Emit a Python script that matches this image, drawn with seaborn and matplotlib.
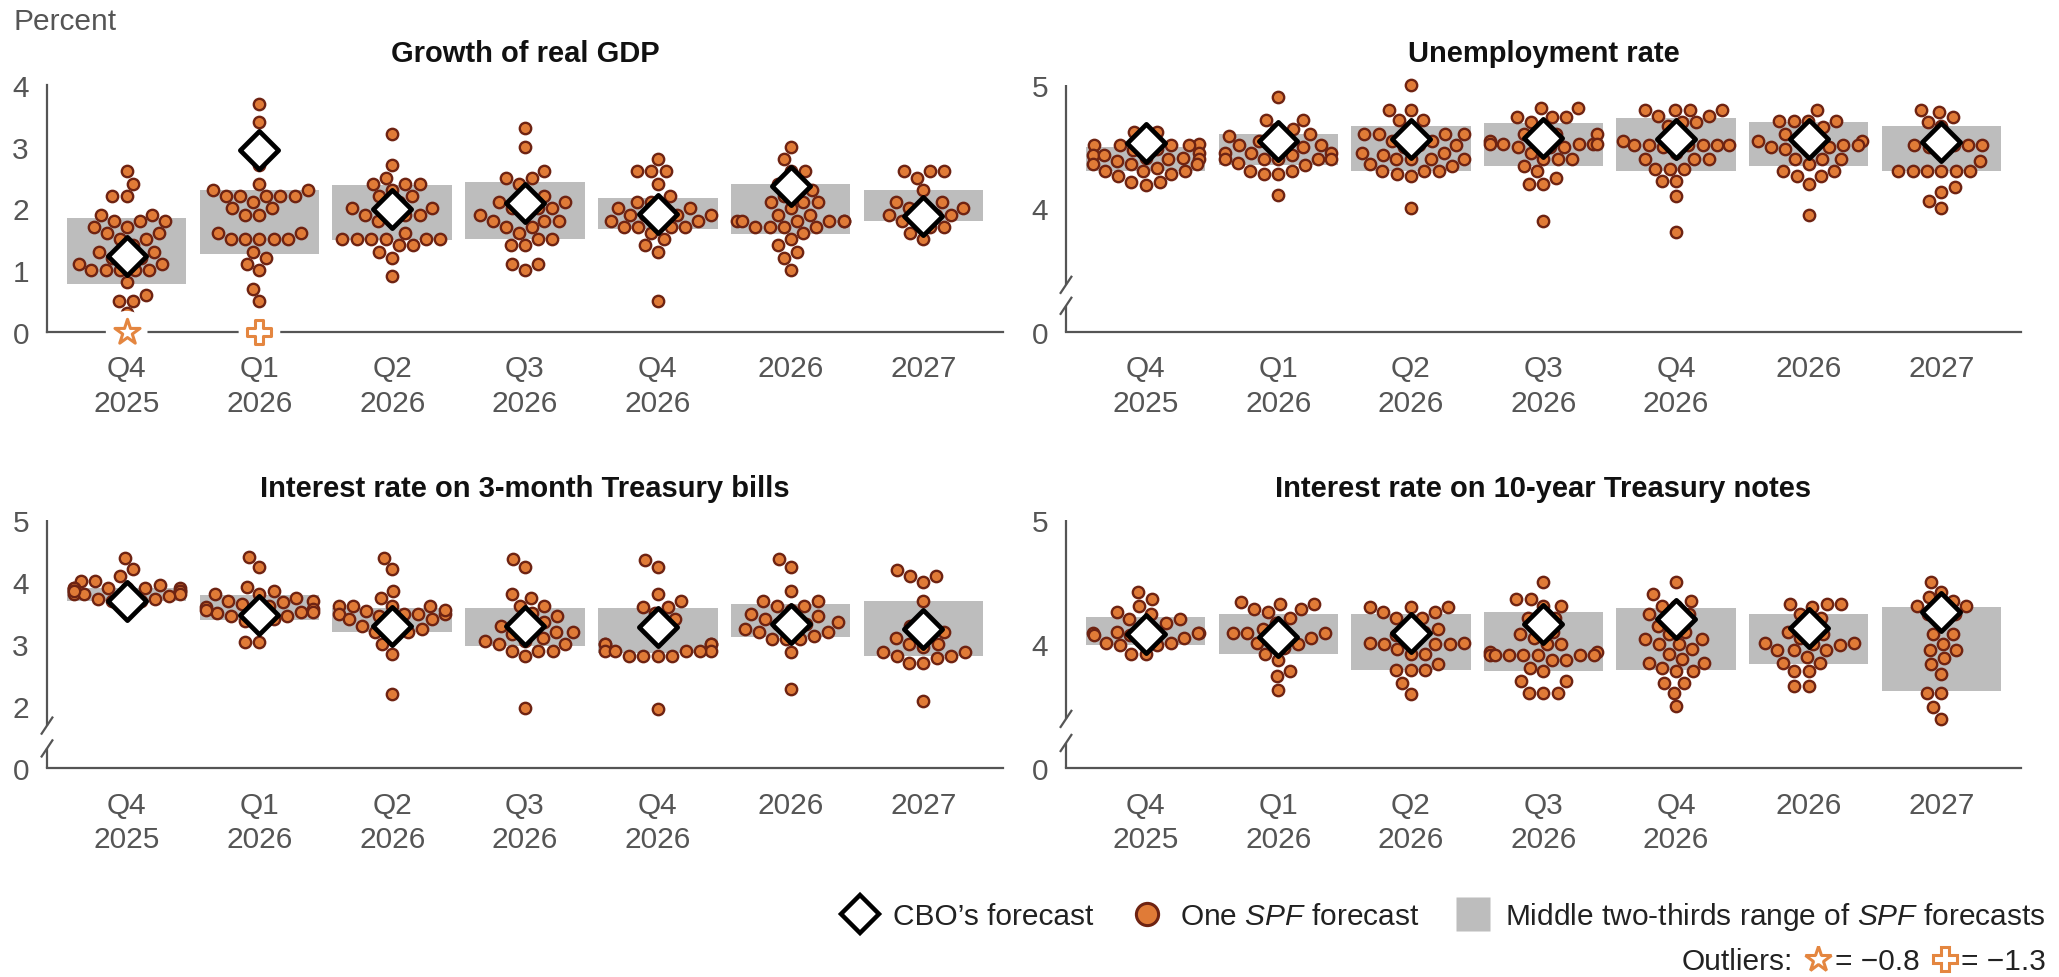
import numpy as np
import pandas as pd
import matplotlib
matplotlib.use("Agg")
import matplotlib.pyplot as plt
from matplotlib.lines import Line2D
import seaborn as sns

# ---------------------------------------------------------------- data
periods = ["Q4\n2025", "Q1\n2026", "Q2\n2026", "Q3\n2026", "Q4\n2026", "2026", "2027"]

# Growth of real GDP: individual SPF forecasts per period
gdp_spf = [
    [2.6, 2.4, 2.2, 2.2, 1.9, 1.9, 1.8, 1.8, 1.8, 1.7, 1.7, 1.6, 1.6, 1.5, 1.5, 1.4, 1.3,
     1.3, 1.2, 1.2, 1.2, 1.1, 1.1, 1.0, 1.0, 1.0, 1.0, 1.0, 0.8, 0.6, 0.5, 0.5, 0.3],
    [3.7, 3.4, 2.7, 2.4, 2.3, 2.3, 2.2, 2.2, 2.2, 2.2, 2.2, 2.1, 2.0, 2.0, 1.9, 1.9, 1.6,
     1.6, 1.5, 1.5, 1.5, 1.5, 1.5, 1.3, 1.2, 1.1, 1.0, 0.7, 0.5],
    [3.2, 2.7, 2.5, 2.4, 2.4, 2.4, 2.3, 2.2, 2.2, 2.1, 2.0, 2.0, 2.0, 1.9, 1.9, 1.9, 1.8,
     1.8, 1.6, 1.5, 1.5, 1.5, 1.5, 1.5, 1.5, 1.4, 1.4, 1.3, 1.2, 0.9],
    [3.3, 3.0, 2.6, 2.5, 2.5, 2.4, 2.2, 2.2, 2.1, 2.1, 2.0, 2.0, 2.0, 1.9, 1.9, 1.8, 1.8,
     1.8, 1.7, 1.7, 1.6, 1.5, 1.5, 1.4, 1.4, 1.1, 1.1, 1.0],
    [2.8, 2.6, 2.6, 2.6, 2.4, 2.2, 2.1, 2.1, 2.0, 2.0, 2.0, 1.9, 1.9, 1.9, 1.9, 1.8, 1.8,
     1.8, 1.7, 1.7, 1.7, 1.7, 1.6, 1.5, 1.4, 1.3, 0.5],
    [3.0, 2.8, 2.6, 2.6, 2.4, 2.3, 2.3, 2.2, 2.1, 2.1, 2.1, 2.0, 1.9, 1.9, 1.8, 1.8, 1.8,
     1.8, 1.8, 1.8, 1.7, 1.7, 1.7, 1.7, 1.6, 1.5, 1.4, 1.3, 1.2, 1.0],
    [2.6, 2.6, 2.6, 2.5, 2.3, 2.1, 2.1, 2.0, 2.0, 2.0, 1.9, 1.9, 1.9, 1.8, 1.8, 1.7, 1.7,
     1.6, 1.5],
]
gdp_cbo = [1.22, 2.94, 1.99, 2.09, 1.91, 2.37, 1.87]
gdp_band_lo = [0.77, 1.26, 1.49, 1.50, 1.67, 1.59, 1.80]
gdp_band_hi = [1.84, 2.29, 2.38, 2.42, 2.17, 2.40, 2.30]
# off-scale forecasts, shown as symbols on the zero line
gdp_outlier_period = [0, 1]
gdp_outlier_value = [-0.8, -1.3]
gdp_outlier_marker = ["*", "P"]

# Unemployment rate
unemp_spf = [
    [4.62, 4.62, 4.55, 4.52, 4.51, 4.51, 4.51, 4.51, 4.48, 4.45, 4.43, 4.43, 4.41, 4.41,
     4.40, 4.40, 4.38, 4.36, 4.36, 4.36, 4.30, 4.30, 4.30, 4.28, 4.26, 4.21, 4.21, 4.19,
     4.47, 4.33],
    [4.90, 4.72, 4.72, 4.64, 4.64, 4.59, 4.60, 4.55, 4.55, 4.51, 4.51, 4.50, 4.50, 4.45,
     4.45, 4.45, 4.43, 4.40, 4.40, 4.40, 4.40, 4.40, 4.37, 4.35, 4.30, 4.30, 4.28, 4.28,
     4.11],
    [5.00, 4.80, 4.80, 4.72, 4.72, 4.66, 4.60, 4.60, 4.60, 4.60, 4.55, 4.55, 4.51, 4.51,
     4.50, 4.45, 4.45, 4.43, 4.40, 4.40, 4.40, 4.40, 4.36, 4.34, 4.30, 4.30, 4.30, 4.28,
     4.26, 4.00],
    [4.81, 4.81, 4.74, 4.74, 4.74, 4.70, 4.65, 4.60, 4.60, 4.60, 4.55, 4.55, 4.52, 4.52,
     4.52, 4.52, 4.52, 4.50, 4.50, 4.50, 4.45, 4.40, 4.40, 4.40, 4.34, 4.30, 4.25, 4.20,
     4.20, 3.90],
    [4.80, 4.80, 4.80, 4.80, 4.75, 4.75, 4.70, 4.70, 4.67, 4.58, 4.55, 4.51, 4.51, 4.51,
     4.51, 4.51, 4.51, 4.50, 4.45, 4.40, 4.40, 4.40, 4.32, 4.32, 4.32, 4.22, 4.22, 4.10,
     3.81],
    [4.80, 4.71, 4.71, 4.71, 4.71, 4.66, 4.60, 4.60, 4.55, 4.55, 4.55, 4.51, 4.51, 4.50,
     4.50, 4.48, 4.48, 4.40, 4.40, 4.40, 4.36, 4.30, 4.30, 4.26, 4.26, 4.20, 3.95],
    [4.80, 4.78, 4.74, 4.70, 4.67, 4.51, 4.51, 4.51, 4.51, 4.50, 4.45, 4.38, 4.30, 4.30,
     4.30, 4.30, 4.30, 4.30, 4.17, 4.13, 4.06, 4.00],
]
unemp_cbo = [4.53, 4.55, 4.56, 4.57, 4.56, 4.56, 4.54]
unemp_band_lo = [4.30, 4.355, 4.30, 4.34, 4.30, 4.34, 4.30]
unemp_band_hi = [4.50, 4.60, 4.67, 4.69, 4.735, 4.70, 4.67]

# Interest rate on 3-month Treasury bills
bill_spf = [
    [4.39, 4.21, 4.10, 4.02, 4.02, 3.95, 3.91, 3.91, 3.91, 3.91, 3.91, 3.86, 3.86, 3.86,
     3.81, 3.81, 3.80, 3.78, 3.73, 3.73, 3.70, 3.70, 3.66, 3.85, 3.90],
    [4.40, 4.24, 3.92, 3.86, 3.81, 3.81, 3.75, 3.70, 3.70, 3.68, 3.62, 3.60, 3.56, 3.56,
     3.51, 3.51, 3.50, 3.46, 3.45, 3.40, 3.38, 3.35, 3.03, 3.03, 3.65, 3.55],
    [4.39, 4.21, 3.85, 3.75, 3.62, 3.62, 3.62, 3.62, 3.54, 3.48, 3.48, 3.48, 3.48, 3.45,
     3.40, 3.40, 3.35, 3.30, 3.19, 3.19, 3.13, 3.00, 2.84, 2.19, 3.55, 3.25],
    [4.37, 4.24, 3.81, 3.75, 3.62, 3.62, 3.50, 3.38, 3.35, 3.30, 3.25, 3.19, 3.19, 3.16,
     3.05, 3.05, 3.00, 3.00, 2.89, 2.89, 2.89, 2.81, 1.97, 3.45, 3.10],
    [4.35, 4.24, 3.80, 3.70, 3.60, 3.60, 3.50, 3.40, 3.30, 3.24, 3.08, 3.00, 3.00, 3.00,
     3.00, 2.89, 2.89, 2.89, 2.89, 2.89, 2.81, 2.81, 2.81, 2.81, 1.95],
    [4.37, 4.24, 3.86, 3.70, 3.70, 3.62, 3.62, 3.48, 3.45, 3.40, 3.35, 3.32, 3.32, 3.24,
     3.19, 3.19, 3.13, 3.08, 3.08, 3.08, 2.87, 2.28, 3.55, 3.28],
    [4.19, 4.10, 4.10, 4.00, 3.70, 3.30, 3.20, 3.20, 3.10, 3.00, 3.00, 2.95, 2.87, 2.87,
     2.81, 2.81, 2.78, 2.69, 2.69, 2.09],
]
bill_cbo = [3.69, 3.47, 3.29, 3.29, 3.27, 3.33, 3.24]
bill_band_lo = [3.69, 3.39, 3.19, 2.97, 2.85, 3.12, 2.81]
bill_band_hi = [3.90, 3.79, 3.59, 3.59, 3.59, 3.65, 3.69]

# Interest rate on 10-year Treasury notes
note_spf = [
    [4.42, 4.36, 4.31, 4.26, 4.24, 4.20, 4.20, 4.17, 4.15, 4.10, 4.10, 4.09, 4.09, 4.09,
     4.07, 4.07, 4.05, 4.03, 4.01, 4.01, 3.99, 3.99, 3.92, 3.92],
    [4.34, 4.32, 4.32, 4.28, 4.28, 4.26, 4.21, 4.17, 4.12, 4.09, 4.09, 4.09, 4.09, 4.05,
     4.04, 4.01, 4.00, 3.97, 3.92, 3.87, 3.78, 3.74, 3.63],
    [4.30, 4.30, 4.30, 4.26, 4.26, 4.21, 4.21, 4.16, 4.12, 4.10, 4.07, 4.05, 4.01, 4.01,
     4.00, 4.00, 4.00, 3.96, 3.92, 3.92, 3.84, 3.79, 3.79, 3.79, 3.69, 3.60],
    [4.50, 4.36, 4.36, 4.31, 4.31, 4.21, 4.21, 4.15, 4.10, 4.08, 4.05, 4.00, 4.00, 3.94,
     3.94, 3.91, 3.91, 3.91, 3.91, 3.91, 3.91, 3.91, 3.87, 3.87, 3.81, 3.78, 3.70, 3.70,
     3.61, 3.61, 3.61],
    [4.50, 4.40, 4.35, 4.31, 4.31, 4.24, 4.24, 4.19, 4.15, 4.10, 4.08, 4.04, 4.04, 4.00,
     4.00, 3.96, 3.92, 3.88, 3.85, 3.85, 3.81, 3.78, 3.78, 3.69, 3.69, 3.61, 3.50],
    [4.32, 4.32, 4.32, 4.30, 4.24, 4.21, 4.15, 4.10, 4.08, 4.05, 4.01, 4.01, 3.99, 4.00,
     3.95, 3.95, 3.95, 3.90, 3.85, 3.85, 3.78, 3.78, 3.66, 3.66],
    [4.50, 4.42, 4.38, 4.35, 4.31, 4.31, 4.31, 4.24, 4.24, 4.20, 4.08, 4.08, 4.00, 3.95,
     3.95, 3.89, 3.84, 3.76, 3.61, 3.61, 3.49, 3.38],
]
note_cbo = [4.08, 4.06, 4.09, 4.16, 4.20, 4.13, 4.255]
note_band_lo = [3.995, 3.92, 3.79, 3.78, 3.79, 3.84, 3.62]
note_band_hi = [4.215, 4.24, 4.24, 4.26, 4.29, 4.24, 4.30]

titles = ["Growth of real GDP", "Unemployment rate",
          "Interest rate on 3-month Treasury bills",
          "Interest rate on 10-year Treasury notes"]

# ---------------------------------------------------------------- style
FILL = "#E07B37"
EDGE = "#6E2312"
BAND = "#BDBDBD"
OUTLIER = "#E48640"
AXIS = "#555555"
TEXT = "#222222"

sns.set_style("white")
plt.rcParams["font.family"] = ["Liberation Sans", "DejaVu Sans"]
plt.rcParams["mathtext.fontset"] = "custom"
plt.rcParams["mathtext.rm"] = "Liberation Sans"
plt.rcParams["mathtext.it"] = "Liberation Sans:italic"
plt.rcParams["mathtext.bf"] = "Liberation Sans:bold"

FS = 21.5

fig = plt.figure(figsize=(20.59, 9.78), dpi=100)
W, H = 2059, 978


def add_axes(x0, y_top, x1, y_bot):
    return fig.add_axes([x0 / W, 1 - y_bot / H, (x1 - x0) / W, (y_bot - y_top) / H])


def broken_scale(z0, b):
    """Linear above b; 0..b squeezed into z0..b."""
    k = (b - z0) / b

    def fwd(y):
        y = np.asarray(y, dtype=float)
        return np.where(y >= b, y, z0 + y * k)

    def inv(v):
        v = np.asarray(v, dtype=float)
        return np.where(v >= b, v, (v - z0) / k)

    return fwd, inv


panels = [
    dict(spf=gdp_spf, cbo=gdp_cbo, lo=gdp_band_lo, hi=gdp_band_hi, top=4,
         ticks=[0, 1, 2, 3, 4], brk=None, box=(47, 86, 1003, 332.7)),
    dict(spf=unemp_spf, cbo=unemp_cbo, lo=unemp_band_lo, hi=unemp_band_hi, top=5,
         ticks=[0, 4, 5], brk=(3.0, 3.38, 0.105, 0.19), box=(1066, 86, 2021, 332.7)),
    dict(spf=bill_spf, cbo=bill_cbo, lo=bill_band_lo, hi=bill_band_hi, top=5,
         ticks=[0, 2, 3, 4, 5], brk=(1.0, 1.68, 0.08, 0.172), box=(47, 521, 1003, 769.3)),
    dict(spf=note_spf, cbo=note_cbo, lo=note_band_lo, hi=note_band_hi, top=5,
         ticks=[0, 4, 5], brk=(3.0, 3.40, 0.102, 0.199), box=(1066, 521, 2021, 769.3)),
]

for p, title in zip(panels, titles):
    x0, yt, x1, yb = p["box"]
    ax = add_axes(x0, yt, x1, yb)
    if p["brk"] is not None:
        z0, b, g_lo, g_hi = p["brk"]
        ax.set_yscale("function", functions=broken_scale(z0, b))

    df = pd.DataFrame({
        "period": np.repeat(periods, [len(v) for v in p["spf"]]),
        "value": np.concatenate([np.asarray(v, float) for v in p["spf"]]),
    })
    pos = np.arange(len(periods))
    lo = np.asarray(p["lo"])
    hi = np.asarray(p["hi"])

    # middle two-thirds range
    ax.bar(pos, hi - lo, bottom=lo, width=0.9, color=BAND, linewidth=0, zorder=1)
    # individual SPF forecasts
    sns.swarmplot(data=df, x="period", y="value", order=periods, ax=ax,
                  color=FILL, edgecolor=EDGE, linewidth=1.7, size=8.2,
                  zorder=3, clip_on=False, warn_thresh=1.0)
    # CBO forecast
    ax.scatter(pos, p["cbo"], marker="D", s=380, facecolor="white",
               edgecolor="black", linewidths=3.4, zorder=5, clip_on=False)

    ax.set_xlim(-0.6, len(periods) - 0.4)
    ax.set_ylim(0, p["top"])
    ax.set_yticks(p["ticks"])
    ax.set_yticklabels([str(t) for t in p["ticks"]])
    ax.set_xlabel("")
    ax.set_ylabel("")
    ax.set_title(title, fontsize=21, fontweight="bold", color="#111111", pad=17)

    for s in ("top", "right"):
        ax.spines[s].set_visible(False)
    for s in ("left", "bottom"):
        ax.spines[s].set_color(AXIS)
        ax.spines[s].set_linewidth(1.6)
    ax.tick_params(axis="both", direction="in", length=8, width=1.5, color=AXIS,
                   labelcolor=AXIS, labelsize=FS)
    ax.tick_params(axis="x", pad=16)
    ax.tick_params(axis="y", pad=13)
    for lab in ax.get_xticklabels():
        lab.set_linespacing(1.3)

    if p["brk"] is not None:
        # left spine drawn in two pieces with break marks
        ax.spines["left"].set_visible(False)
        hpx = yb - yt
        wpx = x1 - x0
        dy = 9 / hpx
        dx = 6 / wpx
        kw = dict(transform=ax.transAxes, color=AXIS, lw=1.6, clip_on=False,
                  solid_capstyle="butt", zorder=4)
        ax.plot([0, 0], [g_hi, 1], **kw)
        ax.plot([0, 0], [0, g_lo], **kw)
        for g in (g_lo, g_hi):
            ax.plot([-dx, dx], [g - dy, g + dy], **kw)
    else:
        ax.spines["left"].set_bounds(0, p["top"])
        # off-scale forecasts on the zero line
        for xi, val, mk in zip(gdp_outlier_period, gdp_outlier_value, gdp_outlier_marker):
            yv = max(val, 0)
            ax.scatter([xi], [yv], marker="o", s=900, facecolor="white",
                       edgecolor="none", zorder=6, clip_on=False)
            ax.scatter([xi], [yv], marker=mk, s=360 if mk == "*" else 300,
                       facecolor="white", edgecolor=OUTLIER, linewidths=2.2,
                       zorder=7, clip_on=False)

fig.text(13 / W, 1 - 30 / H, "Percent", fontsize=FS, color=AXIS, va="baseline")

# ---------------------------------------------------------------- legend
h_cbo = Line2D([], [], ls="none", marker="D", ms=19, mfc="white", mec="black", mew=3.2)
h_spf = Line2D([], [], ls="none", marker="o", ms=16, mfc=FILL, mec=EDGE, mew=2.2)
h_band = Line2D([], [], ls="none", marker="s", ms=24, mfc=BAND, mec="none")
leg = fig.legend([h_cbo, h_spf, h_band],
                 ["CBO\u2019s forecast", r"One $\mathit{SPF}$ forecast",
                  r"Middle two-thirds range of $\mathit{SPF}$ forecasts"],
                 loc="center right", bbox_to_anchor=(2046 / W, 1 - 917 / H),
                 ncol=3, frameon=False, fontsize=FS, handlelength=1.0,
                 handletextpad=0.6, columnspacing=1.3, borderpad=0, borderaxespad=0)
for t in leg.get_texts():
    t.set_color(TEXT)

h_blank = Line2D([], [], ls="none", marker="")
h_star = Line2D([], [], ls="none", marker="*", ms=19, mfc="white", mec=OUTLIER, mew=2.2)
h_plus = Line2D([], [], ls="none", marker="P", ms=17, mfc="white", mec=OUTLIER, mew=2.2)
leg2 = fig.legend([h_blank, h_star, h_plus],
                  ["Outliers:", "= \u22120.8", "= \u22121.3"],
                  loc="center right", bbox_to_anchor=(2046 / W, 1 - 962 / H),
                  ncol=3, frameon=False, fontsize=FS, handlelength=0.9,
                  handletextpad=0.1, columnspacing=0.4, borderpad=0, borderaxespad=0)
for t in leg2.get_texts():
    t.set_color(TEXT)

fig.savefig("out.png", dpi=100)
